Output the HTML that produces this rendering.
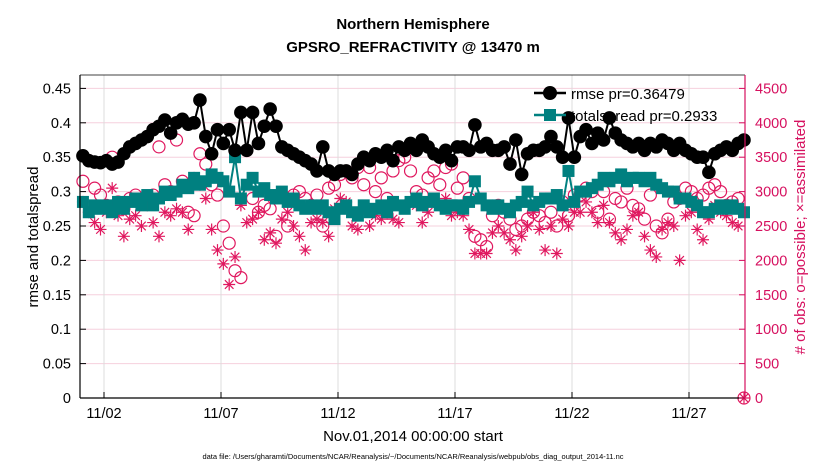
<!DOCTYPE html>
<html><head><meta charset="utf-8">
<style>
html,body{margin:0;padding:0;background:#fff;}
svg{display:block;font-family:"Liberation Sans",sans-serif;}
</style></head>
<body>
<svg id="chart" width="830" height="470" viewBox="0 0 830 470" xmlns="http://www.w3.org/2000/svg">
<rect width="830" height="470" fill="#fff"/>
<g id="grid"></g>
<g id="marks"></g>
<g id="axes"></g>
<text x="413" y="29" text-anchor="middle" font-size="15" font-weight="bold">Northern Hemisphere</text>
<text x="413" y="52" text-anchor="middle" font-size="15" font-weight="bold">GPSRO_REFRACTIVITY @ 13470 m</text>
<text x="413" y="441" text-anchor="middle" font-size="15">Nov.01,2014 00:00:00 start</text>
<text x="413" y="459" text-anchor="middle" font-size="7.5">data file: /Users/gharamti/Documents/NCAR/Reanalysis/~/Documents/NCAR/Reanalysis/webpub/obs_diag_output_2014-11.nc</text>
<text transform="translate(38,237) rotate(-90)" text-anchor="middle" font-size="15">rmse and totalspread</text>
<text transform="translate(805,237) rotate(-90)" text-anchor="middle" font-size="15" fill="#d6105f"># of obs: o=possible; ×=assimilated</text>
<g id="legend">
  <g>
    <line x1="534" y1="93" x2="566" y2="93" stroke="#000" stroke-width="2.5"/>
    <circle cx="550" cy="93" r="7" fill="#000"/>
    <text x="571" y="99" font-size="15">rmse pr=0.36479</text>
  </g>
  <g>
    <line x1="534" y1="115" x2="566" y2="115" stroke="#008080" stroke-width="2.5"/>
    <rect x="544" y="109" width="12" height="12" fill="#008080"/>
    <text x="571" y="121" font-size="15">totalspread pr=0.2933</text>
  </g>
</g>
</svg>
<script>
const rmse = [
.352,.345,.343,.342,.345,.340,.343,.355,
.365,.37,.375,.38,.39,.395,.404,.385,
.40,.405,.398,.40,.433,.38,.355,.39,
.37,.39,.36,.415,.36,.415,.37,.395,
.42,.395,.365,.36,.355,.35,.345,.34,
.33,.365,.33,.325,.33,.33,.325,.34,
.35,.345,.355,.35,.36,.345,.365,.36,
.37,.36,.375,.365,.355,.35,.36,.345,
.365,.365,.36,.397,.365,.37,.36,.36,
.365,.34,.375,.325,.355,.36,.36,.365,
.38,.365,.35,.407,.35,.38,.39,.37,
.385,.375,.407,.385,.375,.37,.365,.37,
.36,.37,.365,.375,.37,.36,.37,.36,
.355,.35,.35,.328,.355,.36,.365,.36,
.37,.375];
const spread = [
.285,.27,.28,.275,.28,.27,.285,.275,
.285,.29,.28,.295,.28,.29,.30,.295,
.30,.31,.305,.32,.31,.315,.325,.32,
.315,.30,.35,.29,.31,.32,.30,.305,
.295,.29,.30,.285,.29,.28,.275,.28,
.275,.28,.27,.26,.275,.28,.27,.265,
.28,.27,.275,.28,.27,.285,.28,.275,
.285,.29,.28,.285,.29,.28,.275,.28,
.28,.275,.285,.315,.29,.28,.275,.28,
.275,.27,.28,.285,.30,.28,.285,.29,
.29,.295,.28,.33,.285,.30,.30,.305,
.31,.32,.315,.32,.325,.315,.32,.32,
.315,.32,.31,.305,.30,.30,.29,.29,
.285,.28,.27,.27,.275,.28,.275,.28,
.275,.27];
const possible = [
3150,3450,3050,2950,2800,3500,2850,2750,
2900,2950,2850,2900,2950,3650,3100,3000,
3750,3150,2700,2650,3550,3400,3100,2950,
2500,2250,1850,1750,3600,2900,2700,2800,
2750,2350,2950,2500,2950,3000,2900,2800,
2950,2500,3050,3100,3250,3300,3200,3350,
3100,3350,3000,3200,2900,3300,3450,3500,
3300,3000,2950,3200,3300,3100,3350,3400,
3050,3200,2900,2350,2300,2200,2650,2800,
2700,2600,2450,2500,2600,2700,2650,2550,
2700,2500,2850,2650,2950,2950,3050,3000,
2700,3000,2600,2900,2850,3050,2800,2750,
2600,2950,2500,2400,2600,2850,2900,3050,
3000,2900,2950,3050,3100,3000,2800,2850,
2900,0];
const assimilated = [
2850,2700,2550,2450,2700,3050,2650,2350,
2600,2650,2500,2800,2550,2350,2700,2650,
2750,2700,2450,3200,3100,2900,2450,2150,
1950,1650,2050,2800,2550,2600,2700,2300,
2400,2250,2600,2700,2500,2350,2150,2550,
2600,2550,2350,2750,2900,2850,2500,2450,
2750,2500,2650,2600,2700,2600,2550,2800,
2850,2800,2550,2700,2850,2800,2900,2650,
2700,2650,2450,2100,2100,2100,2400,2500,
2400,2300,2150,2350,2500,2700,2450,2150,
2500,2100,2600,2500,2700,2700,2850,2700,
2550,2800,2550,2400,2300,2450,2650,2700,
2350,2150,2050,2450,2550,2500,2000,2650,
2700,2450,2300,2600,2800,2700,2650,2550,
2500,0];
const leftTicks = [0,0.05,0.1,0.15,0.2,0.25,0.3,0.35,0.4,0.45];
const leftTickLabels = ["0","0.05","0.1","0.15","0.2","0.25","0.3","0.35","0.4","0.45"];
const rightTicks = [0,500,1000,1500,2000,2500,3000,3500,4000,4500];
const xTickDays = [1,6,11,16,21,26];
const xTickLabels = ["11/02","11/07","11/12","11/17","11/22","11/27"];
const startDay = 0.1, stepDay = 0.25;

const NS="http://www.w3.org/2000/svg";
const L=80, R=745, T=75, B=398;
const dayPx = 23.4, day0X = 80.6;
function xs(d){return day0X + d*dayPx;}
function yl(v){return B - v*688;}
function yr(n){return B - n*0.0688;}
function mk(tag, attrs, parent){const e=document.createElementNS(NS,tag);for(const k in attrs)e.setAttribute(k,attrs[k]);parent.appendChild(e);return e;}
const grid=document.getElementById('grid'), marks=document.getElementById('marks'), axes=document.getElementById('axes');

rightTicks.forEach(function(t){
  const g=mk('line',{x1:L,x2:R,y1:yr(t),y2:yr(t),stroke:'#f6d0dd','stroke-width':1},grid);
  
  
});
xTickDays.forEach(function(d){
  const g=mk('line',{x1:xs(d),x2:xs(d),y1:T,y2:B,stroke:'#dcdcdc','stroke-width':1},grid);
  
  
});

function tx(i){return xs(startDay + i*stepDay);}

possible.forEach(function(n,i){
  const c=mk('circle',{cx:tx(i),cy:yr(n),r:6,fill:'none',stroke:'#e0185f','stroke-width':1.2},marks);
  
  
});
assimilated.forEach(function(n,i){
  const x=tx(i), y=yr(n), s=6;
  const p=mk('path',{d:`M${x-s},${y}H${x+s}M${x},${y-s}V${y+s}M${x-4.3},${y-4.3}L${x+4.3},${y+4.3}M${x-4.3},${y+4.3}L${x+4.3},${y-4.3}`,stroke:'#e0185f','stroke-width':1.2,fill:'none'},marks);
  
  
});
let d='';
spread.forEach(function(v,i){d+=(i?'L':'M')+tx(i)+','+yl(v);});
const sl=mk('path',{d:d,stroke:'#008080','stroke-width':2,fill:'none'},marks);


spread.forEach(function(v,i){
  const r=mk('rect',{x:tx(i)-6,y:yl(v)-6,width:12,height:12,fill:'#008080'},marks);
  
  
});
d='';
rmse.forEach(function(v,i){d+=(i?'L':'M')+tx(i)+','+yl(v);});
const rl=mk('path',{d:d,stroke:'#000','stroke-width':2,fill:'none'},marks);


rmse.forEach(function(v,i){
  const c=mk('circle',{cx:tx(i),cy:yl(v),r:6.8,fill:'#000'},marks);
  
  
});

let a;
a=mk('line',{x1:L,x2:L,y1:T,y2:B,stroke:'#000','stroke-width':1.2},axes);
 
a=mk('line',{x1:L,x2:R,y1:B,y2:B,stroke:'#000','stroke-width':1.2},axes);
 
a=mk('line',{x1:L,x2:R,y1:T,y2:T,stroke:'#000','stroke-width':0.8},axes);
 
a=mk('line',{x1:R,x2:R,y1:T,y2:B,stroke:'#d6105f','stroke-width':1.2},axes);
 

leftTicks.forEach(function(t,i){
  const y=yl(t);
  const tk=mk('line',{x1:L,x2:L+6,y1:y,y2:y,stroke:'#000'},axes);
   
  const lb=mk('text',{x:L-9,y:y+5,'text-anchor':'end','font-size':14.5},axes);
  lb.textContent=leftTickLabels[i];
   
});
rightTicks.forEach(function(t){
  const y=yr(t);
  const tk=mk('line',{x1:R-6,x2:R,y1:y,y2:y,stroke:'#d6105f'},axes);
   
  const lb=mk('text',{x:R+10,y:y+5,'font-size':14.5,fill:'#d6105f'},axes);
  lb.textContent=String(t);
   
});
xTickDays.forEach(function(dd,i){
  const x=xs(dd);
  const tk=mk('line',{x1:x,x2:x,y1:B-6,y2:B,stroke:'#000'},axes);
   
  const lb=mk('text',{x:x,y:B+20,'text-anchor':'middle','font-size':14.5},axes);
  lb.textContent=xTickLabels[i];
   
});
</script>
</body></html>
